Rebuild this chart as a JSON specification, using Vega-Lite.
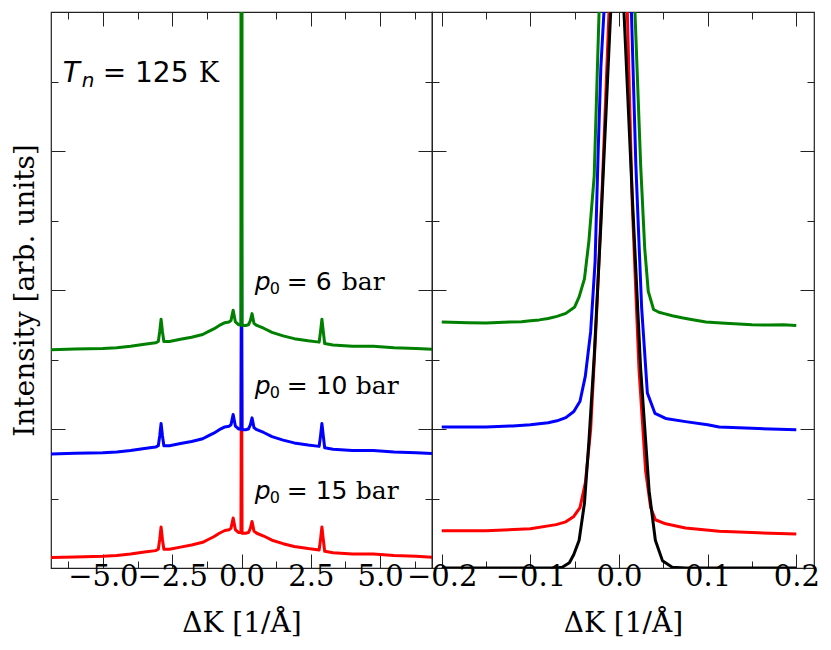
{
  "$schema": "https://vega.github.io/schema/vega-lite/v6.json",
  "background": "white",
  "padding": {"left": 10, "top": 10, "right": 0, "bottom": 0},
  "spacing": 0,
  "bounds": "flush",
  "datasets": {
    "wide": [
      {"k": -6.87, "I": 0.075, "p": "15 bar"}, {"k": -6.0, "I": 0.08, "p": "15 bar"}, {"k": -5.0, "I": 0.085, "p": "15 bar"},
      {"k": -4.5, "I": 0.09, "p": "15 bar"}, {"k": -4.0, "I": 0.1, "p": "15 bar"}, {"k": -3.5, "I": 0.115, "p": "15 bar"},
      {"k": -3.1, "I": 0.125, "p": "15 bar"}, {"k": -3.0, "I": 0.135, "p": "15 bar"}, {"k": -2.95, "I": 0.205, "p": "15 bar"},
      {"k": -2.9, "I": 0.295, "p": "15 bar"}, {"k": -2.85, "I": 0.205, "p": "15 bar"}, {"k": -2.8, "I": 0.135, "p": "15 bar"},
      {"k": -2.6, "I": 0.135, "p": "15 bar"}, {"k": -2.2, "I": 0.15, "p": "15 bar"}, {"k": -1.8, "I": 0.165, "p": "15 bar"},
      {"k": -1.4, "I": 0.185, "p": "15 bar"}, {"k": -1.2, "I": 0.205, "p": "15 bar"}, {"k": -1.0, "I": 0.225, "p": "15 bar"},
      {"k": -0.8, "I": 0.25, "p": "15 bar"}, {"k": -0.6, "I": 0.27, "p": "15 bar"}, {"k": -0.45, "I": 0.275, "p": "15 bar"},
      {"k": -0.38, "I": 0.285, "p": "15 bar"}, {"k": -0.3, "I": 0.36, "p": "15 bar"}, {"k": -0.22, "I": 0.275, "p": "15 bar"},
      {"k": -0.1, "I": 0.255, "p": "15 bar"}, {"k": -0.02, "I": 0.255, "p": "15 bar"}, {"k": 0.0, "I": 1.8, "p": "15 bar"},
      {"k": 0.02, "I": 0.25, "p": "15 bar"}, {"k": 0.15, "I": 0.25, "p": "15 bar"}, {"k": 0.25, "I": 0.255, "p": "15 bar"},
      {"k": 0.32, "I": 0.285, "p": "15 bar"}, {"k": 0.38, "I": 0.335, "p": "15 bar"}, {"k": 0.45, "I": 0.265, "p": "15 bar"},
      {"k": 0.55, "I": 0.25, "p": "15 bar"}, {"k": 0.8, "I": 0.23, "p": "15 bar"}, {"k": 1.1, "I": 0.2, "p": "15 bar"},
      {"k": 1.5, "I": 0.175, "p": "15 bar"}, {"k": 1.9, "I": 0.155, "p": "15 bar"}, {"k": 2.4, "I": 0.14, "p": "15 bar"},
      {"k": 2.8, "I": 0.13, "p": "15 bar"}, {"k": 2.85, "I": 0.205, "p": "15 bar"}, {"k": 2.9, "I": 0.295, "p": "15 bar"},
      {"k": 2.95, "I": 0.205, "p": "15 bar"}, {"k": 3.0, "I": 0.12, "p": "15 bar"}, {"k": 3.3, "I": 0.11, "p": "15 bar"},
      {"k": 4.0, "I": 0.1, "p": "15 bar"}, {"k": 4.75, "I": 0.1, "p": "15 bar"}, {"k": 5.5, "I": 0.09, "p": "15 bar"},
      {"k": 6.3, "I": 0.085, "p": "15 bar"}, {"k": 6.87, "I": 0.078, "p": "15 bar"},

      {"k": -6.87, "I": 0.82, "p": "10 bar"}, {"k": -6.0, "I": 0.825, "p": "10 bar"}, {"k": -5.0, "I": 0.83, "p": "10 bar"},
      {"k": -4.5, "I": 0.835, "p": "10 bar"}, {"k": -4.0, "I": 0.845, "p": "10 bar"}, {"k": -3.5, "I": 0.86, "p": "10 bar"},
      {"k": -3.1, "I": 0.87, "p": "10 bar"}, {"k": -3.0, "I": 0.88, "p": "10 bar"}, {"k": -2.95, "I": 0.95, "p": "10 bar"},
      {"k": -2.9, "I": 1.04, "p": "10 bar"}, {"k": -2.85, "I": 0.95, "p": "10 bar"}, {"k": -2.8, "I": 0.88, "p": "10 bar"},
      {"k": -2.6, "I": 0.88, "p": "10 bar"}, {"k": -2.2, "I": 0.895, "p": "10 bar"}, {"k": -1.8, "I": 0.91, "p": "10 bar"},
      {"k": -1.4, "I": 0.93, "p": "10 bar"}, {"k": -1.2, "I": 0.95, "p": "10 bar"}, {"k": -1.0, "I": 0.97, "p": "10 bar"},
      {"k": -0.8, "I": 0.995, "p": "10 bar"}, {"k": -0.6, "I": 1.015, "p": "10 bar"}, {"k": -0.45, "I": 1.02, "p": "10 bar"},
      {"k": -0.38, "I": 1.03, "p": "10 bar"}, {"k": -0.3, "I": 1.105, "p": "10 bar"}, {"k": -0.22, "I": 1.02, "p": "10 bar"},
      {"k": -0.1, "I": 1.0, "p": "10 bar"}, {"k": -0.02, "I": 1.0, "p": "10 bar"}, {"k": 0.0, "I": 2.5, "p": "10 bar"},
      {"k": 0.02, "I": 0.995, "p": "10 bar"}, {"k": 0.15, "I": 0.995, "p": "10 bar"}, {"k": 0.25, "I": 1.0, "p": "10 bar"},
      {"k": 0.32, "I": 1.03, "p": "10 bar"}, {"k": 0.38, "I": 1.08, "p": "10 bar"}, {"k": 0.45, "I": 1.01, "p": "10 bar"},
      {"k": 0.55, "I": 0.995, "p": "10 bar"}, {"k": 0.8, "I": 0.975, "p": "10 bar"}, {"k": 1.1, "I": 0.945, "p": "10 bar"},
      {"k": 1.5, "I": 0.92, "p": "10 bar"}, {"k": 1.9, "I": 0.9, "p": "10 bar"}, {"k": 2.4, "I": 0.885, "p": "10 bar"},
      {"k": 2.8, "I": 0.875, "p": "10 bar"}, {"k": 2.85, "I": 0.95, "p": "10 bar"}, {"k": 2.9, "I": 1.04, "p": "10 bar"},
      {"k": 2.95, "I": 0.95, "p": "10 bar"}, {"k": 3.0, "I": 0.865, "p": "10 bar"}, {"k": 3.3, "I": 0.855, "p": "10 bar"},
      {"k": 4.0, "I": 0.845, "p": "10 bar"}, {"k": 4.75, "I": 0.845, "p": "10 bar"}, {"k": 5.5, "I": 0.835, "p": "10 bar"},
      {"k": 6.3, "I": 0.83, "p": "10 bar"}, {"k": 6.87, "I": 0.823, "p": "10 bar"},

      {"k": -6.87, "I": 1.57, "p": "6 bar"}, {"k": -6.0, "I": 1.575, "p": "6 bar"}, {"k": -5.0, "I": 1.58, "p": "6 bar"},
      {"k": -4.5, "I": 1.585, "p": "6 bar"}, {"k": -4.0, "I": 1.595, "p": "6 bar"}, {"k": -3.5, "I": 1.61, "p": "6 bar"},
      {"k": -3.1, "I": 1.62, "p": "6 bar"}, {"k": -3.0, "I": 1.63, "p": "6 bar"}, {"k": -2.95, "I": 1.7, "p": "6 bar"},
      {"k": -2.9, "I": 1.79, "p": "6 bar"}, {"k": -2.85, "I": 1.7, "p": "6 bar"}, {"k": -2.8, "I": 1.63, "p": "6 bar"},
      {"k": -2.6, "I": 1.63, "p": "6 bar"}, {"k": -2.2, "I": 1.645, "p": "6 bar"}, {"k": -1.8, "I": 1.66, "p": "6 bar"},
      {"k": -1.4, "I": 1.68, "p": "6 bar"}, {"k": -1.2, "I": 1.7, "p": "6 bar"}, {"k": -1.0, "I": 1.72, "p": "6 bar"},
      {"k": -0.8, "I": 1.745, "p": "6 bar"}, {"k": -0.6, "I": 1.765, "p": "6 bar"}, {"k": -0.45, "I": 1.77, "p": "6 bar"},
      {"k": -0.38, "I": 1.78, "p": "6 bar"}, {"k": -0.3, "I": 1.855, "p": "6 bar"}, {"k": -0.22, "I": 1.77, "p": "6 bar"},
      {"k": -0.1, "I": 1.75, "p": "6 bar"}, {"k": -0.02, "I": 1.75, "p": "6 bar"}, {"k": 0.0, "I": 30, "p": "6 bar"},
      {"k": 0.02, "I": 1.745, "p": "6 bar"}, {"k": 0.15, "I": 1.745, "p": "6 bar"}, {"k": 0.25, "I": 1.75, "p": "6 bar"},
      {"k": 0.32, "I": 1.78, "p": "6 bar"}, {"k": 0.38, "I": 1.83, "p": "6 bar"}, {"k": 0.45, "I": 1.76, "p": "6 bar"},
      {"k": 0.55, "I": 1.745, "p": "6 bar"}, {"k": 0.8, "I": 1.725, "p": "6 bar"}, {"k": 1.1, "I": 1.695, "p": "6 bar"},
      {"k": 1.5, "I": 1.67, "p": "6 bar"}, {"k": 1.9, "I": 1.65, "p": "6 bar"}, {"k": 2.4, "I": 1.635, "p": "6 bar"},
      {"k": 2.8, "I": 1.625, "p": "6 bar"}, {"k": 2.85, "I": 1.7, "p": "6 bar"}, {"k": 2.9, "I": 1.79, "p": "6 bar"},
      {"k": 2.95, "I": 1.7, "p": "6 bar"}, {"k": 3.0, "I": 1.615, "p": "6 bar"}, {"k": 3.3, "I": 1.605, "p": "6 bar"},
      {"k": 4.0, "I": 1.595, "p": "6 bar"}, {"k": 4.75, "I": 1.595, "p": "6 bar"}, {"k": 5.5, "I": 1.585, "p": "6 bar"},
      {"k": 6.3, "I": 1.58, "p": "6 bar"}, {"k": 6.87, "I": 1.573, "p": "6 bar"}
    ],
    "narrow": [
      {"k": -0.2, "I": 0.268, "p": "15 bar"}, {"k": -0.15, "I": 0.268, "p": "15 bar"}, {"k": -0.1, "I": 0.282, "p": "15 bar"},
      {"k": -0.071, "I": 0.312, "p": "15 bar"}, {"k": -0.06, "I": 0.332, "p": "15 bar"}, {"k": -0.051, "I": 0.371, "p": "15 bar"},
      {"k": -0.044, "I": 0.435, "p": "15 bar"}, {"k": -0.038, "I": 0.612, "p": "15 bar"}, {"k": -0.032, "I": 0.994, "p": "15 bar"},
      {"k": -0.026, "I": 1.73, "p": "15 bar"}, {"k": -0.0188, "I": 2.76, "p": "15 bar"}, {"k": -0.0113, "I": 4.0, "p": "15 bar"},
      {"k": 0.0, "I": 7.0, "p": "15 bar"}, {"k": 0.0094, "I": 4.0, "p": "15 bar"}, {"k": 0.015, "I": 2.61, "p": "15 bar"},
      {"k": 0.0225, "I": 1.435, "p": "15 bar"}, {"k": 0.03, "I": 0.7, "p": "15 bar"}, {"k": 0.0357, "I": 0.435, "p": "15 bar"},
      {"k": 0.041, "I": 0.347, "p": "15 bar"}, {"k": 0.0526, "I": 0.318, "p": "15 bar"}, {"k": 0.075, "I": 0.288, "p": "15 bar"},
      {"k": 0.113, "I": 0.265, "p": "15 bar"}, {"k": 0.15, "I": 0.255, "p": "15 bar"}, {"k": 0.2, "I": 0.244, "p": "15 bar"},

      {"k": -0.2, "I": 1.015, "p": "10 bar"}, {"k": -0.15, "I": 1.015, "p": "10 bar"}, {"k": -0.12, "I": 1.022, "p": "10 bar"},
      {"k": -0.1, "I": 1.03, "p": "10 bar"}, {"k": -0.08, "I": 1.045, "p": "10 bar"}, {"k": -0.07, "I": 1.059, "p": "10 bar"},
      {"k": -0.06, "I": 1.082, "p": "10 bar"}, {"k": -0.051, "I": 1.126, "p": "10 bar"}, {"k": -0.044, "I": 1.2, "p": "10 bar"},
      {"k": -0.038, "I": 1.38, "p": "10 bar"}, {"k": -0.032, "I": 1.7, "p": "10 bar"}, {"k": -0.027, "I": 2.2, "p": "10 bar"},
      {"k": -0.0235, "I": 3.0, "p": "10 bar"}, {"k": -0.0205, "I": 3.6, "p": "10 bar"}, {"k": -0.017, "I": 4.0, "p": "10 bar"},
      {"k": -0.008, "I": 6.5, "p": "10 bar"}, {"k": 0.0, "I": 8.0, "p": "10 bar"}, {"k": 0.008, "I": 6.5, "p": "10 bar"},
      {"k": 0.014, "I": 4.0, "p": "10 bar"}, {"k": 0.019, "I": 2.9, "p": "10 bar"}, {"k": 0.0255, "I": 1.876, "p": "10 bar"},
      {"k": 0.032, "I": 1.259, "p": "10 bar"}, {"k": 0.0406, "I": 1.112, "p": "10 bar"}, {"k": 0.0526, "I": 1.076, "p": "10 bar"},
      {"k": 0.075, "I": 1.053, "p": "10 bar"}, {"k": 0.1, "I": 1.03, "p": "10 bar"}, {"k": 0.113, "I": 1.015, "p": "10 bar"},
      {"k": 0.15, "I": 1.005, "p": "10 bar"}, {"k": 0.2, "I": 0.994, "p": "10 bar"},

      {"k": -0.2, "I": 1.77, "p": "6 bar"}, {"k": -0.19, "I": 1.768, "p": "6 bar"}, {"k": -0.17, "I": 1.765, "p": "6 bar"},
      {"k": -0.15, "I": 1.762, "p": "6 bar"}, {"k": -0.13, "I": 1.768, "p": "6 bar"}, {"k": -0.11, "I": 1.772, "p": "6 bar"},
      {"k": -0.1, "I": 1.779, "p": "6 bar"}, {"k": -0.09, "I": 1.785, "p": "6 bar"}, {"k": -0.08, "I": 1.795, "p": "6 bar"},
      {"k": -0.07, "I": 1.81, "p": "6 bar"}, {"k": -0.06, "I": 1.832, "p": "6 bar"}, {"k": -0.05, "I": 1.878, "p": "6 bar"},
      {"k": -0.045, "I": 1.95, "p": "6 bar"}, {"k": -0.039, "I": 2.08, "p": "6 bar"}, {"k": -0.034, "I": 2.35, "p": "6 bar"},
      {"k": -0.028, "I": 2.82, "p": "6 bar"}, {"k": -0.0225, "I": 4.0, "p": "6 bar"}, {"k": -0.012, "I": 6.5, "p": "6 bar"},
      {"k": 0.0, "I": 9.0, "p": "6 bar"}, {"k": 0.01, "I": 6.5, "p": "6 bar"}, {"k": 0.018, "I": 4.0, "p": "6 bar"},
      {"k": 0.0244, "I": 2.9, "p": "6 bar"}, {"k": 0.029, "I": 2.3, "p": "6 bar"}, {"k": 0.033, "I": 1.99, "p": "6 bar"},
      {"k": 0.039, "I": 1.86, "p": "6 bar"}, {"k": 0.045, "I": 1.84, "p": "6 bar"}, {"k": 0.051, "I": 1.83, "p": "6 bar"},
      {"k": 0.06, "I": 1.815, "p": "6 bar"}, {"k": 0.071, "I": 1.8, "p": "6 bar"}, {"k": 0.08, "I": 1.79, "p": "6 bar"},
      {"k": 0.098, "I": 1.77, "p": "6 bar"}, {"k": 0.12, "I": 1.76, "p": "6 bar"}, {"k": 0.15, "I": 1.75, "p": "6 bar"},
      {"k": 0.17, "I": 1.748, "p": "6 bar"}, {"k": 0.185, "I": 1.75, "p": "6 bar"}, {"k": 0.2, "I": 1.744, "p": "6 bar"},

      {"k": -0.2, "I": 0.0, "p": "ref"}, {"k": -0.1, "I": 0.0, "p": "ref"}, {"k": -0.071, "I": 0.0, "p": "ref"},
      {"k": -0.064, "I": 0.006, "p": "ref"}, {"k": -0.056, "I": 0.038, "p": "ref"}, {"k": -0.051, "I": 0.097, "p": "ref"},
      {"k": -0.045, "I": 0.2, "p": "ref"}, {"k": -0.039, "I": 0.465, "p": "ref"}, {"k": -0.034, "I": 0.906, "p": "ref"},
      {"k": -0.028, "I": 1.52, "p": "ref"}, {"k": -0.0207, "I": 2.44, "p": "ref"}, {"k": -0.0094, "I": 4.0, "p": "ref"},
      {"k": 0.0, "I": 6.0, "p": "ref"}, {"k": 0.0056, "I": 4.0, "p": "ref"}, {"k": 0.015, "I": 2.67, "p": "ref"},
      {"k": 0.0244, "I": 1.435, "p": "ref"}, {"k": 0.034, "I": 0.553, "p": "ref"}, {"k": 0.041, "I": 0.2, "p": "ref"},
      {"k": 0.049, "I": 0.053, "p": "ref"}, {"k": 0.06, "I": 0.006, "p": "ref"}, {"k": 0.075, "I": 0.0, "p": "ref"},
      {"k": 0.2, "I": 0.0, "p": "ref"}
    ],
    "notes": [
      {"k": -6.45, "I": 3.5, "sym": "T", "sub": "n", "num": "= 125", "unit": "K"},
      {"k": 0.48, "I": 2.0, "sym": "p", "sub": "0", "num": "= 6", "unit": "bar"},
      {"k": 0.48, "I": 1.255, "sym": "p", "sub": "0", "num": "= 10", "unit": "bar"},
      {"k": 0.48, "I": 0.5, "sym": "p", "sub": "0", "num": "= 15", "unit": "bar"}
    ]
  },
  "hconcat": [
    {
      "width": 381,
      "height": 556,
      "resolve": {"axis": {"x": "independent", "y": "independent"}},
      "layer": [
        {
          "data": {"name": "wide"},
          "transform": [{"filter": "datum.p == '15 bar'"}],
          "mark": {"type": "line", "color": "#ff0000", "strokeWidth": 3, "strokeJoin": "round", "clip": true},
          "encoding": {
            "x": {"field": "k", "type": "quantitative", "scale": {"domain": [-6.87, 6.87], "nice": false, "zero": false},
              "axis": {"orient": "bottom", "values": [-5, -2.5, 0, 2.5, 5], "format": ".1f", "tickSize": -14, "title": "ΔK [1/Å]", "titlePadding": 18}},
            "y": {"field": "I", "type": "quantitative", "scale": {"domain": [0, 4], "nice": false, "zero": false},
              "axis": {"orient": "left", "values": [1, 2, 3], "tickSize": -14, "labels": false, "title": "Intensity [arb. units]", "titlePadding": 11}}
          }
        },
        {
          "data": {"name": "wide"},
          "transform": [{"filter": "datum.p == '10 bar'"}],
          "mark": {"type": "line", "color": "#0000ff", "strokeWidth": 3, "strokeJoin": "round", "clip": true},
          "encoding": {
            "x": {"field": "k", "type": "quantitative", "scale": {"domain": [-6.87, 6.87], "nice": false, "zero": false},
              "axis": {"orient": "top", "values": [-5, -2.5, 0, 2.5, 5], "tickSize": -14, "labels": false, "title": null}},
            "y": {"field": "I", "type": "quantitative", "scale": {"domain": [0, 4], "nice": false, "zero": false},
              "axis": {"orient": "right", "values": [1, 2, 3], "tickSize": -14, "labels": false, "title": null}}
          }
        },
        {
          "data": {"name": "wide"},
          "transform": [{"filter": "datum.p == '6 bar'"}],
          "mark": {"type": "line", "color": "#008000", "strokeWidth": 3, "strokeJoin": "round", "clip": true},
          "encoding": {
            "x": {"field": "k", "type": "quantitative", "scale": {"domain": [-6.87, 6.87], "nice": false, "zero": false},
              "axis": {"orient": "bottom", "values": [-6.25, -3.75, -1.25, 1.25, 3.75, 6.25], "tickSize": -7, "labels": false, "title": null}},
            "y": {"field": "I", "type": "quantitative", "scale": {"domain": [0, 4], "nice": false, "zero": false},
              "axis": {"orient": "left", "values": [0.5, 1.5, 2.5, 3.5], "tickSize": -7, "labels": false, "title": null}}
          }
        },
        {
          "data": {"name": "notes"},
          "transform": [{"filter": "datum.sym == 'T'"}],
          "mark": {"type": "text", "font": "DejaVu Sans", "fontStyle": "italic", "fontSize": 28, "align": "left", "baseline": "alphabetic", "color": "#000"},
          "encoding": {
            "x": {"field": "k", "type": "quantitative", "scale": {"domain": [-6.87, 6.87], "nice": false, "zero": false},
              "axis": {"orient": "top", "values": [-6.25, -3.75, -1.25, 1.25, 3.75, 6.25], "tickSize": -7, "labels": false, "title": null}},
            "y": {"field": "I", "type": "quantitative", "scale": {"domain": [0, 4], "nice": false, "zero": false},
              "axis": {"orient": "right", "values": [0.5, 1.5, 2.5, 3.5], "tickSize": -7, "labels": false, "title": null}},
            "text": {"field": "sym"}
          }
        },
        {
          "data": {"name": "notes"},
          "transform": [{"filter": "datum.sym == 'T'"}],
          "mark": {"type": "text", "font": "DejaVu Sans", "fontStyle": "italic", "fontSize": 20, "align": "left", "baseline": "alphabetic", "dx": 19, "dy": 5, "color": "#000"},
          "encoding": {
            "x": {"field": "k", "type": "quantitative", "scale": {"domain": [-6.87, 6.87], "nice": false, "zero": false}, "axis": null},
            "y": {"field": "I", "type": "quantitative", "scale": {"domain": [0, 4], "nice": false, "zero": false}, "axis": null},
            "text": {"field": "sub"}
          }
        },
        {
          "data": {"name": "notes"},
          "transform": [{"filter": "datum.sym == 'T'"}],
          "mark": {"type": "text", "font": "DejaVu Sans", "fontSize": 28, "align": "left", "baseline": "alphabetic", "dx": 40, "color": "#000"},
          "encoding": {
            "x": {"field": "k", "type": "quantitative", "scale": {"domain": [-6.87, 6.87], "nice": false, "zero": false}, "axis": null},
            "y": {"field": "I", "type": "quantitative", "scale": {"domain": [0, 4], "nice": false, "zero": false}, "axis": null},
            "text": {"field": "num"}
          }
        },
        {
          "data": {"name": "notes"},
          "transform": [{"filter": "datum.sym == 'T'"}],
          "mark": {"type": "text", "font": "DejaVu Serif", "fontSize": 27, "align": "left", "baseline": "alphabetic", "dx": 136, "color": "#000"},
          "encoding": {
            "x": {"field": "k", "type": "quantitative", "scale": {"domain": [-6.87, 6.87], "nice": false, "zero": false}, "axis": null},
            "y": {"field": "I", "type": "quantitative", "scale": {"domain": [0, 4], "nice": false, "zero": false}, "axis": null},
            "text": {"field": "unit"}
          }
        },
        {
          "data": {"name": "notes"},
          "transform": [{"filter": "datum.sym == 'p'"}],
          "mark": {"type": "text", "font": "DejaVu Sans", "fontStyle": "italic", "fontSize": 25, "align": "left", "baseline": "alphabetic", "color": "#000"},
          "encoding": {
            "x": {"field": "k", "type": "quantitative", "scale": {"domain": [-6.87, 6.87], "nice": false, "zero": false}, "axis": null},
            "y": {"field": "I", "type": "quantitative", "scale": {"domain": [0, 4], "nice": false, "zero": false}, "axis": null},
            "text": {"field": "sym"}
          }
        },
        {
          "data": {"name": "notes"},
          "transform": [{"filter": "datum.sym == 'p'"}],
          "mark": {"type": "text", "font": "DejaVu Sans", "fontSize": 16, "align": "left", "baseline": "alphabetic", "dx": 15, "dy": 4, "color": "#000"},
          "encoding": {
            "x": {"field": "k", "type": "quantitative", "scale": {"domain": [-6.87, 6.87], "nice": false, "zero": false}, "axis": null},
            "y": {"field": "I", "type": "quantitative", "scale": {"domain": [0, 4], "nice": false, "zero": false}, "axis": null},
            "text": {"field": "sub"}
          }
        },
        {
          "data": {"name": "notes"},
          "transform": [{"filter": "datum.sym == 'p'"}],
          "mark": {"type": "text", "font": "DejaVu Sans", "fontSize": 25, "align": "left", "baseline": "alphabetic", "dx": 32, "color": "#000"},
          "encoding": {
            "x": {"field": "k", "type": "quantitative", "scale": {"domain": [-6.87, 6.87], "nice": false, "zero": false}, "axis": null},
            "y": {"field": "I", "type": "quantitative", "scale": {"domain": [0, 4], "nice": false, "zero": false}, "axis": null},
            "text": {"field": "num"}
          }
        },
        {
          "data": {"name": "notes"},
          "transform": [{"filter": "datum.sym == 'p' && length(datum.num) == 3"}],
          "mark": {"type": "text", "font": "DejaVu Serif", "fontSize": 25, "align": "left", "baseline": "alphabetic", "dx": 87, "color": "#000"},
          "encoding": {
            "x": {"field": "k", "type": "quantitative", "scale": {"domain": [-6.87, 6.87], "nice": false, "zero": false}, "axis": null},
            "y": {"field": "I", "type": "quantitative", "scale": {"domain": [0, 4], "nice": false, "zero": false}, "axis": null},
            "text": {"field": "unit"}
          }
        },
        {
          "data": {"name": "notes"},
          "transform": [{"filter": "datum.sym == 'p' && length(datum.num) == 4"}],
          "mark": {"type": "text", "font": "DejaVu Serif", "fontSize": 25, "align": "left", "baseline": "alphabetic", "dx": 101, "color": "#000"},
          "encoding": {
            "x": {"field": "k", "type": "quantitative", "scale": {"domain": [-6.87, 6.87], "nice": false, "zero": false}, "axis": null},
            "y": {"field": "I", "type": "quantitative", "scale": {"domain": [0, 4], "nice": false, "zero": false}, "axis": null},
            "text": {"field": "unit"}
          }
        }
      ]
    },
    {
      "width": 382,
      "height": 556,
      "data": {"name": "narrow"},
      "resolve": {"axis": {"x": "independent", "y": "independent"}},
      "layer": [
        {
          "transform": [{"filter": "datum.p == '15 bar'"}],
          "mark": {"type": "line", "color": "#ff0000", "strokeWidth": 3, "strokeJoin": "round", "clip": true},
          "encoding": {
            "x": {"field": "k", "type": "quantitative", "scale": {"domain": [-0.211, 0.22], "nice": false, "zero": false},
              "axis": {"orient": "bottom", "values": [-0.2, -0.1, 0, 0.1, 0.2], "format": ".1f", "tickSize": -14, "title": "ΔK [1/Å]", "titlePadding": 18}},
            "y": {"field": "I", "type": "quantitative", "scale": {"domain": [0, 4], "nice": false, "zero": false},
              "axis": {"orient": "left", "values": [1, 2, 3], "tickSize": -14, "labels": false, "title": null}}
          }
        },
        {
          "transform": [{"filter": "datum.p == '10 bar'"}],
          "mark": {"type": "line", "color": "#0000ff", "strokeWidth": 3, "strokeJoin": "round", "clip": true},
          "encoding": {
            "x": {"field": "k", "type": "quantitative", "scale": {"domain": [-0.211, 0.22], "nice": false, "zero": false},
              "axis": {"orient": "top", "values": [-0.2, -0.1, 0, 0.1, 0.2], "tickSize": -14, "labels": false, "title": null}},
            "y": {"field": "I", "type": "quantitative", "scale": {"domain": [0, 4], "nice": false, "zero": false},
              "axis": {"orient": "right", "values": [1, 2, 3], "tickSize": -14, "labels": false, "title": null}}
          }
        },
        {
          "transform": [{"filter": "datum.p == '6 bar'"}],
          "mark": {"type": "line", "color": "#008000", "strokeWidth": 3, "strokeJoin": "round", "clip": true},
          "encoding": {
            "x": {"field": "k", "type": "quantitative", "scale": {"domain": [-0.211, 0.22], "nice": false, "zero": false},
              "axis": {"orient": "bottom", "values": [-0.15, -0.05, 0.05, 0.15], "tickSize": -7, "labels": false, "title": null}},
            "y": {"field": "I", "type": "quantitative", "scale": {"domain": [0, 4], "nice": false, "zero": false},
              "axis": {"orient": "left", "values": [0.5, 1.5, 2.5, 3.5], "tickSize": -7, "labels": false, "title": null}}
          }
        },
        {
          "transform": [{"filter": "datum.p == 'ref'"}],
          "mark": {"type": "line", "color": "#000000", "strokeWidth": 3, "strokeJoin": "round", "clip": true},
          "encoding": {
            "x": {"field": "k", "type": "quantitative", "scale": {"domain": [-0.211, 0.22], "nice": false, "zero": false},
              "axis": {"orient": "top", "values": [-0.15, -0.05, 0.05, 0.15], "tickSize": -7, "labels": false, "title": null}},
            "y": {"field": "I", "type": "quantitative", "scale": {"domain": [0, 4], "nice": false, "zero": false},
              "axis": {"orient": "right", "values": [0.5, 1.5, 2.5, 3.5], "tickSize": -7, "labels": false, "title": null}}
          }
        }
      ]
    }
  ],
  "config": {
    "view": {"stroke": "#222", "strokeWidth": 1.2},
    "axis": {
      "domain": false,
      "grid": false,
      "tickColor": "#222",
      "tickWidth": 1,
      "labelFont": "DejaVu Serif",
      "labelFontSize": 29,
      "labelColor": "#000",
      "labelPadding": 8,
      "labelOverlap": false,
      "labelFlush": false,
      "titleFont": "DejaVu Serif",
      "titleFontSize": 28,
      "titleFontWeight": "normal",
      "titleColor": "#000",
      "titlePadding": 8
    }
  }
}
